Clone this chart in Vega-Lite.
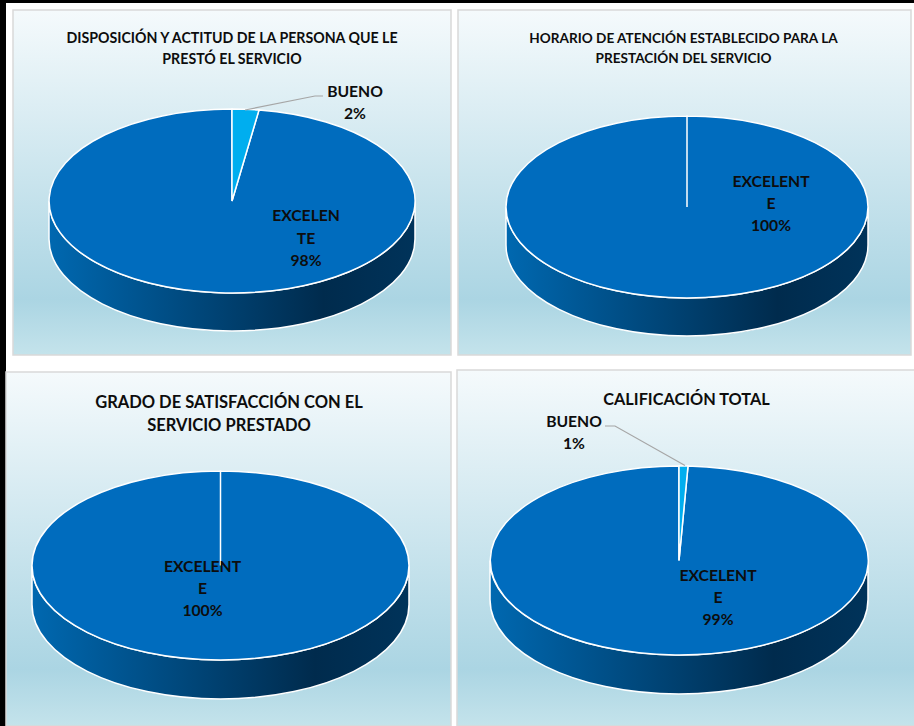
{
"$schema":"https://vega.github.io/schema/vega-lite/v6.json",
"background":"black",
"padding":{"left":5,"top":3,"right":0,"bottom":0},
"spacing":0,
"resolve":{"scale":{"color":"independent","shape":"independent"}},
"config":{"view":{"fill":"white","stroke":null},"axis":{"disable":true},"text":{"font":"Lato","fontWeight":"bold","color":"#0D0D0D"}},
"vconcat":[
{"spacing":0,"resolve":{"scale":{"color":"independent","shape":"independent"}},"hconcat":[
{"width":446,"height":360,
"data":{"values":[{"categoria":"EXCELENTE","porcentaje":98,"etiqueta":"EXCELEN\nTE\n98%"},{"categoria":"BUENO","porcentaje":2,"etiqueta":"BUENO\n2%"}]},
"layer":[
{"transform":[{"filter":"datum.categoria=='EXCELENTE'"}],"mark":{"type":"rect","stroke":"#D9D9D9","strokeWidth":1.5,"fill":{"gradient":"linear","x1":0,"y1":0,"x2":0,"y2":1,"stops":[{"offset":0,"color":"#F5FAFC"},{"offset":0.84,"color":"#ABD5E3"},{"offset":1,"color":"#C4E3EB"}]}},
"encoding":{"x":{"datum":13,"type":"quantitative","axis":null,"scale":{"domain":[6,452],"zero":false,"nice":false}},"x2":{"datum":451},"y":{"datum":10,"type":"quantitative","axis":null,"scale":{"domain":[3,363],"reverse":true,"zero":false,"nice":false}},"y2":{"datum":355}}},
{"transform":[{"filter":"datum.categoria=='EXCELENTE'"}],"mark":{"type":"point","filled":true,"opacity":1,"size":4,"shape":"M-183,0 V38 A183,92 0 0 0 183,38 V0 A183,92 0 0 1 -183,0 Z","stroke":"white","strokeWidth":1.5,"fill":{"gradient":"linear","x1":0,"y1":0,"x2":1,"y2":0,"stops":[{"offset":0,"color":"#0068B0"},{"offset":0.75,"color":"#002B4D"},{"offset":1,"color":"#00335A"}]}},
"encoding":{"x":{"datum":232,"type":"quantitative"},"y":{"datum":201,"type":"quantitative"}}},
{"mark":{"type":"point","filled":true,"opacity":1,"size":4,"stroke":"white","strokeWidth":1.5},
"encoding":{"x":{"datum":232,"type":"quantitative"},"y":{"datum":201,"type":"quantitative"},
"color":{"field":"categoria","type":"nominal","legend":null,"scale":{"domain":["EXCELENTE","BUENO"],"range":["#006CBE","#00AEEF"]}},
"shape":{"field":"categoria","type":"nominal","legend":null,"scale":{"domain":["EXCELENTE","BUENO"],"range":["M0,0 L27,-91 A183,92 0 1 1 0,-92 Z","M0,0 L0,-92 A183,92 0 0 1 27,-91 Z"]}}}},
{"transform":[{"filter":"datum.categoria=='BUENO'"}],"mark":{"type":"point","filled":false,"opacity":1,"size":4,"shape":"M13,-91 L83,-105 H91","stroke":"#A6A6A6","strokeWidth":1.2},
"encoding":{"x":{"datum":232,"type":"quantitative"},"y":{"datum":201,"type":"quantitative"}}},
{"transform":[{"filter":"datum.categoria=='EXCELENTE'"}],"mark":{"type":"text","fontSize":14.2,"lineHeight":21,"text":["DISPOSICIÓN  Y ACTITUD DE LA PERSONA QUE LE","PRESTÓ  EL SERVICIO"]},
"encoding":{"x":{"datum":232,"type":"quantitative"},"y":{"datum":38.5,"type":"quantitative"}}},
{"transform":[{"filter":"datum.categoria=='EXCELENTE'"}],"mark":{"type":"text","fontSize":15.7,"lineHeight":22.5,"lineBreak":"\n"},
"encoding":{"text":{"field":"etiqueta"},"x":{"datum":306,"type":"quantitative"},"y":{"datum":216,"type":"quantitative"}}},
{"transform":[{"filter":"datum.categoria=='BUENO'"}],"mark":{"type":"text","fontSize":15.7,"lineHeight":22,"lineBreak":"\n"},
"encoding":{"text":{"field":"etiqueta"},"x":{"datum":355,"type":"quantitative"},"y":{"datum":92,"type":"quantitative"}}}
]},
{"width":463,"height":360,
"data":{"values":[{"categoria":"EXCELENTE","porcentaje":100,"etiqueta":"EXCELENT\nE\n100%"}]},
"layer":[
{"mark":{"type":"rect","stroke":"#D9D9D9","strokeWidth":1.5,"fill":{"gradient":"linear","x1":0,"y1":0,"x2":0,"y2":1,"stops":[{"offset":0,"color":"#F5FAFC"},{"offset":0.84,"color":"#ABD5E3"},{"offset":1,"color":"#C4E3EB"}]}},
"encoding":{"x":{"datum":458,"type":"quantitative","axis":null,"scale":{"domain":[452,915],"zero":false,"nice":false}},"x2":{"datum":911},"y":{"datum":10,"type":"quantitative","axis":null,"scale":{"domain":[3,363],"reverse":true,"zero":false,"nice":false}},"y2":{"datum":355}}},
{"mark":{"type":"point","filled":true,"opacity":1,"size":4,"shape":"M-181,0 V38 A181,91 0 0 0 181,38 V0 A181,91 0 0 1 -181,0 Z","stroke":"white","strokeWidth":1.5,"fill":{"gradient":"linear","x1":0,"y1":0,"x2":1,"y2":0,"stops":[{"offset":0,"color":"#0068B0"},{"offset":0.75,"color":"#002B4D"},{"offset":1,"color":"#00335A"}]}},
"encoding":{"x":{"datum":687,"type":"quantitative"},"y":{"datum":207,"type":"quantitative"}}},
{"mark":{"type":"point","filled":true,"opacity":1,"size":4,"stroke":"white","strokeWidth":1.5},
"encoding":{"x":{"datum":687,"type":"quantitative"},"y":{"datum":207,"type":"quantitative"},
"color":{"field":"categoria","type":"nominal","legend":null,"scale":{"domain":["EXCELENTE"],"range":["#006CBE"]}},
"shape":{"field":"categoria","type":"nominal","legend":null,"scale":{"domain":["EXCELENTE"],"range":["M0,0 V-91 A181,91 0 1 1 0,91 A181,91 0 1 1 0,-91 Z"]}}}},
{"mark":{"type":"text","fontSize":13.6,"lineHeight":20,"text":["HORARIO DE ATENCIÓN ESTABLECIDO PARA LA","PRESTACIÓN DEL SERVICIO"]},
"encoding":{"x":{"datum":683.5,"type":"quantitative"},"y":{"datum":38.5,"type":"quantitative"}}},
{"mark":{"type":"text","fontSize":15.7,"lineHeight":22,"lineBreak":"\n"},
"encoding":{"text":{"field":"etiqueta"},"x":{"datum":771,"type":"quantitative"},"y":{"datum":182,"type":"quantitative"}}}
]}
]},
{"spacing":0,"resolve":{"scale":{"color":"independent","shape":"independent"}},"hconcat":[
{"width":446,"height":363,
"data":{"values":[{"categoria":"EXCELENTE","porcentaje":100,"etiqueta":"EXCELENT\nE\n100%"}]},
"layer":[
{"mark":{"type":"rect","stroke":"#D9D9D9","strokeWidth":1.5,"fill":{"gradient":"linear","x1":0,"y1":0,"x2":0,"y2":1,"stops":[{"offset":0,"color":"#F5FAFC"},{"offset":0.84,"color":"#ABD5E3"},{"offset":1,"color":"#C4E3EB"}]}},
"encoding":{"x":{"datum":6,"type":"quantitative","axis":null,"scale":{"domain":[6,452],"zero":false,"nice":false}},"x2":{"datum":451},"y":{"datum":372,"type":"quantitative","axis":null,"scale":{"domain":[363,726],"reverse":true,"zero":false,"nice":false}},"y2":{"datum":726}}},
{"mark":{"type":"point","filled":true,"opacity":1,"size":4,"shape":"M-188.5,0 V39 A188.5,94.5 0 0 0 188.5,39 V0 A188.5,94.5 0 0 1 -188.5,0 Z","stroke":"white","strokeWidth":1.5,"fill":{"gradient":"linear","x1":0,"y1":0,"x2":1,"y2":0,"stops":[{"offset":0,"color":"#0068B0"},{"offset":0.75,"color":"#002B4D"},{"offset":1,"color":"#00335A"}]}},
"encoding":{"x":{"datum":220.5,"type":"quantitative"},"y":{"datum":565.5,"type":"quantitative"}}},
{"mark":{"type":"point","filled":true,"opacity":1,"size":4,"stroke":"white","strokeWidth":1.5},
"encoding":{"x":{"datum":220.5,"type":"quantitative"},"y":{"datum":565.5,"type":"quantitative"},
"color":{"field":"categoria","type":"nominal","legend":null,"scale":{"domain":["EXCELENTE"],"range":["#006CBE"]}},
"shape":{"field":"categoria","type":"nominal","legend":null,"scale":{"domain":["EXCELENTE"],"range":["M0,0 V-94.5 A188.5,94.5 0 1 1 0,94.5 A188.5,94.5 0 1 1 0,-94.5 Z"]}}}},
{"mark":{"type":"text","fontSize":16.5,"lineHeight":23,"text":["GRADO DE SATISFACCIÓN CON EL","SERVICIO PRESTADO"]},
"encoding":{"x":{"datum":229,"type":"quantitative"},"y":{"datum":402.5,"type":"quantitative"}}},
{"mark":{"type":"text","fontSize":15.7,"lineHeight":22,"lineBreak":"\n"},
"encoding":{"text":{"field":"etiqueta"},"x":{"datum":202.5,"type":"quantitative"},"y":{"datum":567,"type":"quantitative"}}}
]},
{"width":463,"height":363,
"data":{"values":[{"categoria":"EXCELENTE","porcentaje":99,"etiqueta":"EXCELENT\nE\n99%"},{"categoria":"BUENO","porcentaje":1,"etiqueta":"BUENO\n1%"}]},
"layer":[
{"transform":[{"filter":"datum.categoria=='EXCELENTE'"}],"mark":{"type":"rect","stroke":"#D9D9D9","strokeWidth":1.5,"fill":{"gradient":"linear","x1":0,"y1":0,"x2":0,"y2":1,"stops":[{"offset":0,"color":"#F5FAFC"},{"offset":0.84,"color":"#ABD5E3"},{"offset":1,"color":"#C4E3EB"}]}},
"encoding":{"x":{"datum":457,"type":"quantitative","axis":null,"scale":{"domain":[452,915],"zero":false,"nice":false}},"x2":{"datum":915},"y":{"datum":370,"type":"quantitative","axis":null,"scale":{"domain":[363,726],"reverse":true,"zero":false,"nice":false}},"y2":{"datum":726}}},
{"transform":[{"filter":"datum.categoria=='EXCELENTE'"}],"mark":{"type":"point","filled":true,"opacity":1,"size":4,"shape":"M-189,0 V39 A189,94.5 0 0 0 189,39 V0 A189,94.5 0 0 1 -189,0 Z","stroke":"white","strokeWidth":1.5,"fill":{"gradient":"linear","x1":0,"y1":0,"x2":1,"y2":0,"stops":[{"offset":0,"color":"#0068B0"},{"offset":0.75,"color":"#002B4D"},{"offset":1,"color":"#00335A"}]}},
"encoding":{"x":{"datum":679,"type":"quantitative"},"y":{"datum":560.5,"type":"quantitative"}}},
{"mark":{"type":"point","filled":true,"opacity":1,"size":4,"stroke":"white","strokeWidth":1.5},
"encoding":{"x":{"datum":679,"type":"quantitative"},"y":{"datum":560.5,"type":"quantitative"},
"color":{"field":"categoria","type":"nominal","legend":null,"scale":{"domain":["EXCELENTE","BUENO"],"range":["#006CBE","#00AEEF"]}},
"shape":{"field":"categoria","type":"nominal","legend":null,"scale":{"domain":["EXCELENTE","BUENO"],"range":["M0,0 L9,-94.4 A189,94.5 0 1 1 0,-94.5 Z","M0,0 L0,-94.5 A189,94.5 0 0 1 9,-94.4 Z"]}}}},
{"transform":[{"filter":"datum.categoria=='BUENO'"}],"mark":{"type":"point","filled":false,"opacity":1,"size":4,"shape":"M6,-95 L-64,-134.5 H-74","stroke":"#A6A6A6","strokeWidth":1.2},
"encoding":{"x":{"datum":679,"type":"quantitative"},"y":{"datum":560.5,"type":"quantitative"}}},
{"transform":[{"filter":"datum.categoria=='EXCELENTE'"}],"mark":{"type":"text","fontSize":16.3,"text":"CALIFICACIÓN TOTAL"},
"encoding":{"x":{"datum":686.5,"type":"quantitative"},"y":{"datum":399.5,"type":"quantitative"}}},
{"transform":[{"filter":"datum.categoria=='EXCELENTE'"}],"mark":{"type":"text","fontSize":15.7,"lineHeight":22,"lineBreak":"\n"},
"encoding":{"text":{"field":"etiqueta"},"x":{"datum":718,"type":"quantitative"},"y":{"datum":576,"type":"quantitative"}}},
{"transform":[{"filter":"datum.categoria=='BUENO'"}],"mark":{"type":"text","fontSize":15.7,"lineHeight":22,"lineBreak":"\n"},
"encoding":{"text":{"field":"etiqueta"},"x":{"datum":574,"type":"quantitative"},"y":{"datum":422,"type":"quantitative"}}}
]}
]}
]
}
